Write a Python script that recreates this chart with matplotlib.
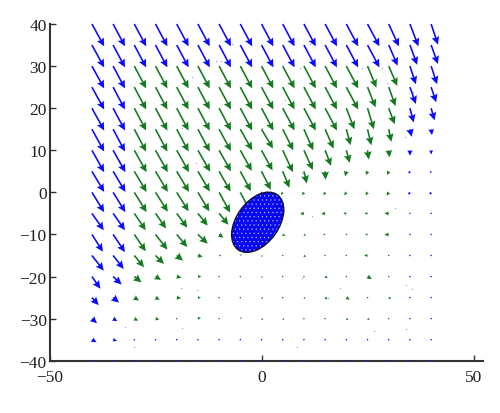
import numpy as np
import matplotlib
matplotlib.use("Agg")
import matplotlib.pyplot as plt
from matplotlib.patches import Ellipse

# grid coordinates
x_vals = [-40, -35, -30, -25, -20, -15, -10, -5, 0, 5, 10, 15, 20, 25, 30, 35, 40]
y_vals = [40, 35, 30, 25, 20, 15, 10, 5, 0, -5, -10, -15, -20, -25, -30, -35, -40]

# horizontal component per row (rows follow y_vals, columns follow x_vals)
u_rows = [
    [2.9, 2.8, 2.8, 2.8, 2.8, 2.8, 2.8, 2.8, 2.8, 2.8, 2.8, 2.8, 2.8, 2.8, 2.4, 2.0, 1.6],
    [2.9, 2.8, 2.8, 2.8, 2.8, 2.8, 2.8, 2.8, 2.8, 2.8, 2.8, 2.8, 2.8, 2.8, 2.1, 1.7, 1.6],
    [2.9, 2.8, 2.8, 2.8, 2.8, 2.8, 2.8, 2.8, 2.8, 2.8, 2.8, 2.8, 2.8, 2.1, 2.0, 1.4, 1.4],
    [2.9, 2.8, 2.8, 2.8, 2.8, 2.8, 2.8, 2.8, 2.8, 2.8, 2.8, 2.8, 2.8, 1.9, 1.6, 1.4, 1.2],
    [2.9, 2.8, 2.8, 2.8, 2.8, 2.8, 2.8, 2.8, 2.8, 2.8, 2.8, 2.8, 1.9, 1.5, 1.4, 0.9, 0.8],
    [2.9, 2.8, 2.8, 2.8, 2.8, 2.8, 2.8, 2.8, 2.7, 2.5, 2.2, 2.0, 1.0, 0.9, 0.6, 0.4, 0.2],
    [2.9, 2.9, 2.9, 2.9, 2.9, 2.9, 2.8, 2.7, 2.6, 2.4, 2.1, 1.4, 0.8, 0.3, 0.2, 0.0, 0.0],
    [2.9, 2.9, 2.9, 2.9, 2.9, 2.8, 2.7, 2.5, 2.2, 1.6, 0.7, 0.1, -0.3, -0.4, -0.4, -0.3, -0.2],
    [2.9, 2.9, 2.9, 2.9, 2.8, 2.7, 2.6, 2.4, 0.0, -0.4, -0.4, -0.4, -0.5, -0.5, -0.5, -0.4, -0.4],
    [2.8, 2.8, 2.7, 2.5, 2.5, 2.3, 2.2, 0.0, 0.0, 0.0, -0.9, -0.9, -0.7, -0.7, -1.0, 0.1, 0.1],
    [2.6, 2.8, 2.7, 2.8, 2.5, 2.3, 1.0, 0.0, 0.0, 0.6, 0.5, -0.5, 0.2, -0.6, -1.0, 0.1, 0.1],
    [2.8, 2.5, 2.3, 2.0, 1.5, 1.1, 0.5, 0.3, 0.3, 0.2, 0.5, 0.1, 0.1, -0.8, 0.2, 0.0, 0.0],
    [2.0, 2.0, 1.7, 1.3, 1.1, 0.8, 0.2, 0.3, 0.3, 0.2, 0.3, 0.6, 0.1, 1.0, 0.1, 0.0, 0.0],
    [1.6, 1.4, 1.1, 1.0, 1.0, 0.7, 0.1, 0.3, 0.4, 0.2, 0.4, 0.6, 0.8, 0.1, 0.6, 0.0, 0.0],
    [1.2, 1.0, 0.9, 0.9, 0.2, 0.7, 0.2, 0.3, 0.4, 0.4, 0.3, 0.1, 0.5, 0.5, 0.1, 0.0, 0.0],
    [1.1, 0.9, 0.1, 0.1, 0.1, 0.1, 0.1, 0.1, 0.1, 0.1, 0.1, 0.1, 0.1, 0.1, 0.1, 0.0, 0.0],
    [0.0, 0.0, 0.0, 0.0, 0.0, 0.0, 0.0, 0.0, 0.0, 0.0, 0.0, 0.0, 0.0, 0.0, 0.0, 0.0, 0.0],
]

# vertical component per row
v_rows = [
    [-5.3, -5.3, -5.3, -5.3, -5.3, -5.3, -5.3, -5.3, -5.3, -5.3, -5.3, -5.3, -5.3, -5.3, -5.3, -5.3, -4.9],
    [-5.3, -5.3, -5.3, -5.3, -5.3, -5.3, -5.3, -5.3, -5.3, -5.3, -5.3, -5.3, -5.3, -5.3, -4.9, -4.7, -4.5],
    [-5.3, -5.3, -5.3, -5.3, -5.3, -5.3, -5.3, -5.3, -5.3, -5.3, -5.3, -5.3, -5.3, -5.1, -4.7, -4.3, -4.3],
    [-5.3, -5.3, -5.3, -5.3, -5.3, -5.3, -5.3, -5.3, -5.3, -5.3, -5.3, -5.3, -5.3, -4.8, -4.5, -4.0, -3.6],
    [-5.3, -5.3, -5.3, -5.3, -5.3, -5.3, -5.3, -5.3, -5.3, -5.3, -5.3, -5.3, -5.0, -5.0, -3.8, -3.4, -2.9],
    [-5.3, -5.3, -5.3, -5.3, -5.3, -5.3, -5.2, -5.0, -4.6, -5.0, -5.0, -4.6, -3.8, -3.8, -3.0, -1.8, -1.4],
    [-5.2, -5.2, -5.2, -5.2, -5.2, -5.1, -5.0, -4.9, -4.8, -5.2, -4.7, -3.7, -3.0, -2.2, -1.7, -1.3, -1.0],
    [-4.9, -4.9, -4.9, -4.9, -4.9, -4.8, -4.8, -4.7, -4.4, -3.9, -2.9, -2.0, -1.2, -0.9, -0.9, -0.6, -0.5],
    [-4.7, -4.7, -4.7, -4.6, -4.5, -4.5, -4.8, -4.6, 0.0, -0.6, -0.7, -0.7, -0.7, -0.7, -0.8, -0.6, -0.6],
    [-4.0, -4.0, -4.0, -3.6, -3.4, -2.9, -2.7, 0.0, 0.0, 0.0, -0.1, -0.1, 0.0, 0.0, 0.0, 0.0, 0.0],
    [-4.1, -4.2, -4.0, -3.6, -3.0, -2.2, -0.8, 0.0, 0.0, -0.4, -0.3, 0.0, 0.0, 0.0, -0.1, 0.0, 0.0],
    [-3.6, -3.2, -2.8, -2.0, -1.2, -0.3, 0.0, 0.3, -0.3, -0.2, -0.4, 0.0, 0.0, 0.0, -0.1, 0.0, 0.0],
    [-2.9, -1.9, -1.4, -0.8, -0.3, 0.0, 0.0, -0.2, -0.3, -0.1, -0.2, -0.4, 0.0, -0.6, 0.0, 0.0, 0.0],
    [-1.8, -1.2, -0.7, -0.5, -0.2, 0.0, 0.0, -0.2, -0.3, -0.1, -0.3, -0.4, -0.5, 0.0, -0.3, 0.0, 0.0],
    [-1.1, -0.6, -0.5, -0.2, 0.0, 0.3, 0.1, 0.3, -0.3, -0.3, -0.2, 0.0, -0.3, -0.3, 0.0, 0.0, 0.0],
    [-0.6, -0.3, 0.0, 0.0, 0.0, 0.0, 0.0, 0.0, 0.0, 0.0, 0.0, 0.0, 0.0, 0.0, 0.0, 0.0, 0.0],
    [0.0, 0.0, 0.0, 0.0, 0.0, 0.0, 0.0, 0.0, 0.0, 0.0, 0.0, 0.0, 0.0, 0.0, 0.0, 0.0, 0.0],
]

# obstacle ellipse: center, semi-axes, rotation (deg)
ell_center = (-0.9, -7.1)
ell_axes = (8.0, 5.0)
ell_angle = 55.0

# faint tracer particles
px = [31.5, 12.0, 18.5, 35.5, 34.0, 26.5, 34.0, 9.5, 8.3, 15.6, -18.7, -15.2, -30.0,
      -32.2, -19.0, -16.4, -10.7, -9.5, -15.4, -6.9, -18.7, 11.4, 9.0, 23.7, 28.4,
      5.5, 29.6, 35.8, 33.9, 0.2, 9.5]
py = [-3.6, -5.5, -22.8, -23.0, -22.0, -33.0, -32.5, -20.4, -36.8, -25.2, -32.3, -23.3,
      -36.8, -32.0, -22.8, 27.5, 31.1, 31.1, 6.9, 35.2, 15.2, 35.3, 29.5, 29.5, 29.5,
      21.9, 26.1, 23.8, 13.1, 15.2, 4.5]

X, Y = np.meshgrid(x_vals, y_vals)
U = np.array(u_rows)
V = np.array(v_rows)
outer = (np.abs(X) >= 35) | (np.abs(Y) >= 35)

plt.rcParams['font.family'] = ['Liberation Serif', 'DejaVu Serif']
plt.rcParams['hatch.linewidth'] = 0.35

fig = plt.figure(figsize=(5.0, 4.14), dpi=100)
ax = fig.add_axes([0.099, 0.1263, 0.8676, 0.8133])
ax.set_xlim(-50, 52.3)
ax.set_ylim(-40, 40)

qkw = dict(angles='xy', scale_units='xy', scale=1, pivot='tail',
           width=0.0037, headwidth=4.8, headlength=5.0, headaxislength=4.4,
           clip_on=False, zorder=3)
ax.quiver(X[~outer], Y[~outer], U[~outer], V[~outer], color='#137a1f', **qkw)
ax.quiver(X[outer], Y[outer], U[outer], V[outer], color='#0a0aff', **qkw)

ax.scatter(px, py, s=0.8, color='#8c8cff', linewidths=0, zorder=2)

ell_fill = Ellipse(ell_center, 2 * ell_axes[0], 2 * ell_axes[1], angle=ell_angle,
                   facecolor='#0808f0', edgecolor='#b8c0ff', linewidth=0, hatch='....',
                   zorder=4)
ax.add_patch(ell_fill)
ell_edge = Ellipse(ell_center, 2 * ell_axes[0], 2 * ell_axes[1], angle=ell_angle,
                   facecolor='none', edgecolor='#101030', linewidth=1.0, zorder=5)
ax.add_patch(ell_edge)

ax.set_xticks([-50, 0, 50])
ax.set_yticks([-40, -30, -20, -10, 0, 10, 20, 30, 40])
for s in ['top', 'right']:
    ax.spines[s].set_visible(False)
for s in ['left', 'bottom']:
    ax.spines[s].set_linewidth(1.5)
    ax.spines[s].set_color('#333333')
    ax.spines[s].set_zorder(2.5)
ax.tick_params(direction='in', length=4, width=1.0, color='#333333',
               labelsize=12.5, labelcolor='#222222')
ax.tick_params(axis='y', pad=2)
ax.tick_params(axis='x', pad=6)

fig.savefig('out.png', dpi=100)
